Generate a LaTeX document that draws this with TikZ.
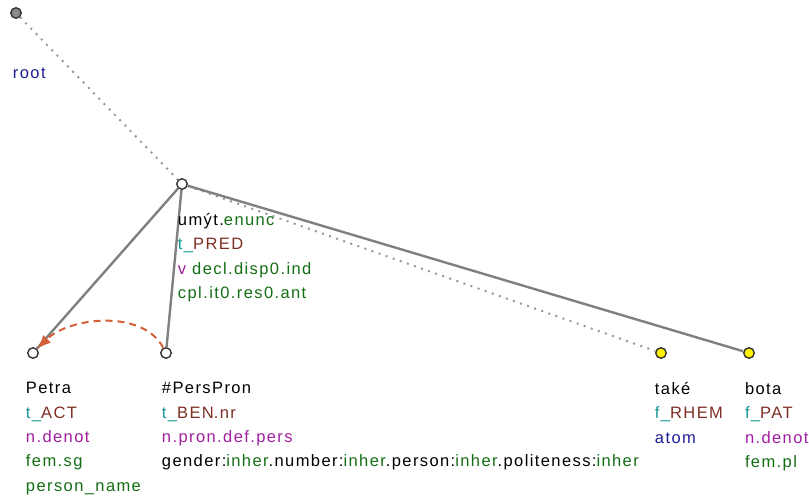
\documentclass[tikz,border=0pt]{standalone}
\usepackage{fontspec}
\setmainfont[LetterSpace=8.5]{Liberation Sans}
\usepackage{tikz}
\usetikzlibrary{arrows.meta,positioning}
\definecolor{lemmacol}{RGB}{0,0,0}
\definecolor{prefcol}{RGB}{20,150,150}
\definecolor{funccol}{RGB}{125,45,35}
\definecolor{poscol}{RGB}{160,30,160}
\definecolor{gramcol}{RGB}{20,110,20}
\definecolor{atomcol}{RGB}{30,30,150}
\definecolor{corefcol}{RGB}{210,95,55}
\newcommand\fnc[2]{\textcolor{prefcol}{#1\_}\textcolor{funccol}{#2}}
\tikzset{
  tnode/.style  ={draw=black!80,circle,fill=white,line width=1.4pt,inner sep=0pt,minimum size=10.5pt},
  rootnode/.style={tnode,fill=black!45},
  focusnode/.style={tnode,fill=yellow},
  lbl/.style    ={anchor=north west,align=left,inner sep=0pt,
                  font=\fontsize{16.5}{24.4}\selectfont},
  edge/.style   ={draw=black!50,line width=2.4pt},
  hidden/.style ={draw=black!40,line width=2pt,dash pattern=on 2pt off 5.5pt},
  coref/.style  ={draw=corefcol,line width=2pt,dash pattern=on 7pt off 5pt,
                  -{Latex[length=14pt,width=11pt]}}
}
\begin{document}
\begin{tikzpicture}[x=1pt,y=1pt]
  \useasboundingbox (0,0) rectangle (809,-497);
  % tree nodes
  \node[rootnode]  (root)  at (16,-13)  {};
  \node[tnode]     (umyt)  at (182,-184) {};
  \node[tnode]     (petra) at (33,-353)  {};
  \node[tnode]     (pers)  at (166,-353) {};
  \node[focusnode] (take)  at (661,-353) {};
  \node[focusnode] (bota)  at (749,-353) {};
  % edges
  \draw[hidden] (root) -- (umyt);
  \draw[hidden] (umyt) -- (take);
  \draw[edge] (umyt) -- (petra);
  \draw[edge] (umyt) -- (pers);
  \draw[edge] (umyt) -- (bota);
  \draw[coref] (pers) to[out=118,in=45,looseness=0.9] (petra);
  % labels
  \node[lbl,below right=50pt and 1pt of root.south west] (root-l)
    {\textcolor{atomcol}{root}};
  \node[lbl,below right=25pt and 0pt of umyt.south west] (umyt-l)
    {umýt.\textcolor{gramcol}{enunc}\\
     \fnc{t}{PRED}\\
     \textcolor{poscol}{v} \textcolor{gramcol}{decl.disp0.ind}\\
     \textcolor{gramcol}{cpl.it0.res0.ant}};
  \node[lbl,below right=25pt and -3pt of petra.south west] (petra-l)
    {Petra\\
     \fnc{t}{ACT}\\
     \textcolor{poscol}{n.denot}\\
     \textcolor{gramcol}{fem.sg}\\
     \textcolor{gramcol}{person\_name}};
  \node[lbl,below right=25pt and 0pt of pers.south west] (pers-l)
    {\#PersPron\\
     \fnc{t}{BEN}\textcolor{funccol}{.nr}\\
     \textcolor{poscol}{n.pron.def.pers}\\
     gender:\textcolor{gramcol}{inher}.number:\textcolor{gramcol}{inher}.person:\textcolor{gramcol}{inher}.politeness:\textcolor{gramcol}{inher}};
  \node[lbl,below right=25pt and -2pt of take.south west] (take-l)
    {také\\
     \fnc{f}{RHEM}\\
     \textcolor{atomcol}{atom}};
  \node[lbl,below right=25pt and 0pt of bota.south west] (bota-l)
    {bota\\
     \fnc{f}{PAT}\\
     \textcolor{poscol}{n.denot}\\
     \textcolor{gramcol}{fem.pl}};
\end{tikzpicture}
\end{document}
